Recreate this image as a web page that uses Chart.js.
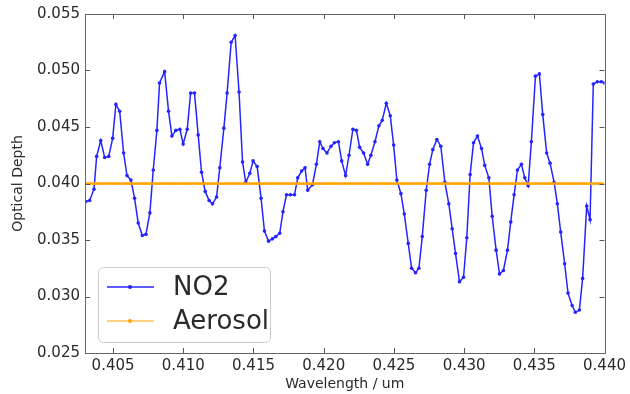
<!DOCTYPE html>
<html>
<head>
<meta charset="utf-8">
<script src="https://cdn.jsdelivr.net/npm/chart.js@4"></script>
<style>
  html, body { margin: 0; padding: 0; background: #fff; }
  #wrap { width: 630px; height: 394px; }
</style>
</head>
<body>
<div id="wrap"><canvas id="chart" width="630" height="394"></canvas></div>
<script>
// wavelength (um) of each NO2 sample
const wavelengths = [
  0.40305,0.40333,0.40364,0.40383,0.40412,0.40440,0.40469,0.40497,0.40520,0.40547,
  0.40575,0.40599,0.40627,0.40653,0.40679,0.40708,0.40734,0.40762,0.40786,0.40812,
  0.40831,0.40867,0.40895,0.40919,0.40947,0.40976,0.40999,0.41028,0.41052,0.41080,
  0.41106,0.41130,0.41156,0.41184,0.41208,0.41237,0.41260,0.41289,0.41312,0.41341,
  0.41369,0.41397,0.41422,0.41445,0.41474,0.41497,0.41526,0.41554,0.41578,0.41607,
  0.41635,0.41659,0.41687,0.41710,0.41735,0.41763,0.41792,0.41815,0.41843,0.41867,
  0.41886,0.41920,0.41948,0.41972,0.41995,0.42023,0.42052,0.42076,0.42105,0.42128,
  0.42156,0.42180,0.42208,0.42233,0.42256,0.42284,0.42313,0.42336,0.42365,0.42393,
  0.42417,0.42446,0.42474,0.42498,0.42521,0.42550,0.42574,0.42602,0.42626,0.42654,
  0.42678,0.42702,0.42730,0.42754,0.42777,0.42806,0.42834,0.42863,0.42891,0.42915,
  0.42939,0.42967,0.42996,0.43019,0.43043,0.43067,0.43095,0.43124,0.43147,0.43176,
  0.43200,0.43228,0.43252,0.43280,0.43309,0.43332,0.43356,0.43380,0.43408,0.43432,
  0.43456,0.43479,0.43508,0.43536,0.43560,0.43588,0.43612,0.43641,0.43664,0.43688,
  0.43716,0.43740,0.43769,0.43792,0.43821,0.43844,0.43873,0.43897,0.43920,0.43949,
  0.43977,0.44000
];

const no2 = [
  0.0384,0.0385,0.0395,0.0424,0.0438,0.0423,0.0424,0.0440,0.0470,0.0464,
  0.0427,0.0407,0.0403,0.0387,0.0365,0.0354,0.0355,0.0374,0.0412,0.0447,
  0.0489,0.0499,0.0464,0.0442,0.0447,0.0448,0.0435,0.0448,0.0480,0.0480,
  0.0443,0.0410,0.0393,0.0385,0.0382,0.0388,0.0414,0.0449,0.0480,0.0525,
  0.0531,0.0481,0.0419,0.0401,0.0409,0.0420,0.0415,0.0387,0.0358,0.0349,
  0.0351,0.0353,0.0356,0.0375,0.0390,0.0390,0.0390,0.0405,0.0411,0.0414,
  0.0394,0.0399,0.0417,0.0437,0.0431,0.0427,0.0433,0.0436,0.0437,0.0420,
  0.0407,0.0425,0.0448,0.0447,0.0432,0.0427,0.0417,0.0425,0.0437,0.0451,
  0.0456,0.0471,0.0460,0.0434,0.0403,0.0391,0.0373,0.0347,0.0325,0.0321,
  0.0325,0.0353,0.0394,0.0417,0.0430,0.0439,0.0433,0.0401,0.0382,0.0360,
  0.0338,0.0313,0.0317,0.0352,0.0408,0.0436,0.0442,0.0431,0.0416,0.0405,
  0.0371,0.0341,0.0320,0.0323,0.0341,0.0366,0.0390,0.0412,0.0417,0.0405,
  0.0398,0.0437,0.0495,0.0497,0.0461,0.0427,0.0418,0.0401,0.0382,0.0357,
  0.0329,0.0303,0.0292,0.0286,0.0288,0.0316,0.0380,0.0368,0.0488,0.0490,
  0.0490,0.0489
];

// aerosol is flat at 0.040, sampled on a finer grid than NO2
const aerosolLevel = 0.040;
const aerosolStart = 0.40305;
const aerosolEnd = 0.44;
const aerosolStep = 0.00016;

const xTicks = [0.405, 0.410, 0.415, 0.420, 0.425, 0.430, 0.435, 0.440];
const yTicks = [0.025, 0.030, 0.035, 0.040, 0.045, 0.050, 0.055];

const no2Points = wavelengths.map((w, i) => ({ x: w, y: no2[i] }));
const aerosolPoints = [];
for (let w = aerosolStart; w <= aerosolEnd + 1e-9; w += aerosolStep) {
  aerosolPoints.push({ x: w, y: aerosolLevel });
}

const FONT = "'DejaVu Sans', sans-serif";
const TEXT = "#2a2a2a";

// matplotlib-like frame with inward ticks on all four sides
const framePlugin = {
  id: 'frame',
  afterDraw(chart) {
    const { ctx, chartArea: a, scales } = chart;
    const len = 5;
    ctx.save();
    ctx.strokeStyle = "#555";
    ctx.lineWidth = 1;
    ctx.beginPath();
    scales.x.ticks.forEach(t => {
      const px = Math.round(scales.x.getPixelForValue(t.value)) + 0.5;
      ctx.moveTo(px, a.bottom); ctx.lineTo(px, a.bottom - len);
      ctx.moveTo(px, a.top); ctx.lineTo(px, a.top + len);
    });
    scales.y.ticks.forEach(t => {
      const py = Math.round(scales.y.getPixelForValue(t.value)) + 0.5;
      ctx.moveTo(a.left, py); ctx.lineTo(a.left + len, py);
      ctx.moveTo(a.right, py); ctx.lineTo(a.right - len, py);
    });
    ctx.stroke();
    ctx.strokeStyle = "#666";
    ctx.strokeRect(Math.round(a.left) + 0.5, Math.round(a.top) + 0.5,
      Math.round(a.right - a.left), Math.round(a.bottom - a.top));
    ctx.restore();
  }
};

// legend box in the lower left corner of the plot
const legendPlugin = {
  id: 'boxLegend',
  afterDatasetsDraw(chart) {
    const { ctx, chartArea: a } = chart;
    const x0 = a.left + 13, y0 = a.bottom - 86, w = 172, h = 75;
    ctx.save();
    ctx.fillStyle = "rgba(255,255,255,0.9)";
    ctx.strokeStyle = "#ccc";
    ctx.lineWidth = 1;
    ctx.beginPath();
    ctx.roundRect(x0 + 0.5, y0 + 0.5, w, h, 5);
    ctx.fill();
    ctx.stroke();
    chart.data.datasets.forEach((ds, i) => {
      const cy = y0 + 20 + i * 34;
      ctx.strokeStyle = ds.borderColor;
      ctx.lineWidth = ds.borderWidth;
      ctx.beginPath();
      ctx.moveTo(x0 + 9, cy); ctx.lineTo(x0 + 56, cy);
      ctx.stroke();
      ctx.fillStyle = ds.borderColor;
      ctx.beginPath();
      ctx.arc(x0 + 32, cy, 2, 0, Math.PI * 2);
      ctx.fill();
      ctx.fillStyle = TEXT;
      ctx.font = "26px " + FONT;
      ctx.textBaseline = "middle";
      ctx.fillText(ds.label, x0 + 75, cy + 1);
    });
    ctx.restore();
  }
};

new Chart(document.getElementById('chart'), {
  type: 'scatter',
  data: {
    datasets: [
      {
        label: 'NO2',
        data: no2Points,
        showLine: true,
        borderColor: '#2424ff',
        backgroundColor: '#2424ff',
        borderWidth: 1.5,
        pointRadius: 1.8,
        pointBorderWidth: 0,
        order: 1
      },
      {
        label: 'Aerosol',
        data: aerosolPoints,
        showLine: true,
        borderColor: '#ffa500',
        backgroundColor: '#ffa500',
        borderWidth: 1.1,
        pointRadius: 1.5,
        pointBorderWidth: 0,
        order: 0
      }
    ]
  },
  options: {
    responsive: false,
    animation: false,
    events: [],
    layout: { padding: { left: 0, top: 12, right: 24, bottom: 0 } },
    plugins: {
      legend: { display: false },
      tooltip: { enabled: false },
      title: { display: false }
    },
    scales: {
      x: {
        type: 'linear',
        min: 0.403,
        max: 0.440,
        afterBuildTicks: s => { s.ticks = xTicks.map(v => ({ value: v })); },
        afterFit: s => { s.height = 41; },
        grid: { display: false, drawTicks: false },
        border: { display: false },
        ticks: {
          color: TEXT,
          font: { family: FONT, size: 15 },
          padding: 4,
          maxRotation: 0,
          callback: v => v.toFixed(3)
        },
        title: {
          display: true,
          text: 'Wavelength / um',
          color: TEXT,
          font: { family: FONT, size: 14 },
          padding: { top: 0, bottom: 1 }
        }
      },
      y: {
        min: 0.025,
        max: 0.055,
        afterBuildTicks: s => { s.ticks = yTicks.map(v => ({ value: v })); },
        afterFit: s => { s.width = 85; },
        grid: { display: false, drawTicks: false },
        border: { display: false },
        ticks: {
          color: TEXT,
          font: { family: FONT, size: 15 },
          padding: 5,
          callback: v => v.toFixed(3)
        },
        title: {
          display: true,
          text: 'Optical Depth',
          color: TEXT,
          font: { family: FONT, size: 14 },
          padding: { top: 10, bottom: 0 }
        }
      }
    }
  },
  plugins: [framePlugin, legendPlugin]
});
</script>
</body>
</html>
